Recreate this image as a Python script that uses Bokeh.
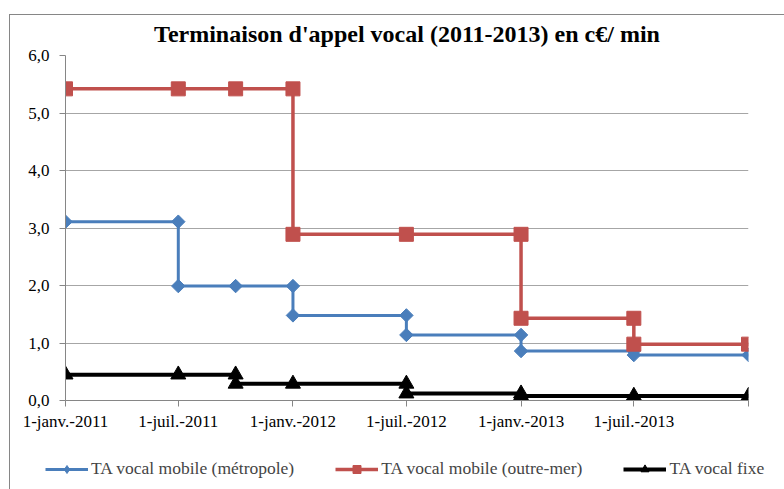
import math
import pandas as pd
from bokeh.plotting import figure
from bokeh.layouts import column
from bokeh.models import Range1d, FixedTicker, Legend, LegendItem, CustomJSTickFormatter
from bokeh.embed import file_html
from bokeh.resources import INLINE

# ---- data ----
title_text = "Terminaison d'appel vocal (2011-2013) en c€/ min"

blue_name = "TA vocal mobile (métropole)"
blue_dates = ["2011-01-01", "2011-07-01", "2011-07-01", "2011-10-01", "2012-01-01", "2012-01-01",
              "2012-07-01", "2012-07-01", "2013-01-01", "2013-01-01", "2013-07-01", "2013-07-01",
              "2014-01-01"]
blue_vals = [3.11, 3.11, 1.99, 1.99, 1.99, 1.48, 1.48, 1.14, 1.14, 0.86, 0.86, 0.79, 0.79]

red_name = "TA vocal mobile (outre-mer)"
red_dates = ["2011-01-01", "2011-07-01", "2011-10-01", "2012-01-01", "2012-01-01", "2012-07-01",
             "2013-01-01", "2013-01-01", "2013-07-01", "2013-07-01", "2014-01-01"]
red_vals = [5.42, 5.42, 5.42, 5.42, 2.89, 2.89, 2.89, 1.43, 1.43, 0.98, 0.98]

black_name = "TA vocal fixe"
black_dates = ["2011-01-01", "2011-07-01", "2011-10-01", "2011-10-01", "2012-01-01", "2012-07-01",
               "2012-07-01", "2013-01-01", "2013-01-01", "2013-07-01", "2014-01-01"]
black_vals = [0.45, 0.45, 0.45, 0.29, 0.29, 0.29, 0.12, 0.12, 0.08, 0.08, 0.08]

x_tick_dates = ["2011-01-01", "2011-07-01", "2012-01-01", "2012-07-01", "2013-01-01",
                "2013-07-01", "2014-01-01"]
x_tick_labels = ["1-janv.-2011", "1-juil.-2011", "1-janv.-2012", "1-juil.-2012",
                 "1-janv.-2013", "1-juil.-2013", ""]
y_ticks = [0, 1, 2, 3, 4, 5, 6]
y_tick_labels = ["0,0", "1,0", "2,0", "3,0", "4,0", "5,0", "6,0"]


def ms(d):
    return int(pd.Timestamp(d).value // 10**6)


FONT = "Liberation Serif"
LOOKUP = """
let best = 0;
for (let i = 1; i < tvals.length; i++) {
  if (Math.abs(tvals[i] - tick) < Math.abs(tvals[best] - tick)) best = i;
}
return tlabels[best];
"""

W = 784
H_MAIN = 450
H_LEG = 39

p = figure(width=W, height=H_MAIN, x_axis_type="datetime", output_backend="svg",
           toolbar_location=None,
           x_range=Range1d(ms(x_tick_dates[0]), ms(x_tick_dates[-1])),
           y_range=Range1d(0, 6),
           min_border_left=65, min_border_right=36, min_border_top=55, min_border_bottom=50)

p.title.text = title_text
p.title.align = "center"
p.title.text_font = FONT
p.title.text_font_size = "24px"
p.title.text_font_style = "bold"
p.title.text_color = "black"
p.title.standoff = 17

p.outline_line_color = None
p.background_fill_color = "white"
p.border_fill_color = None
p.xgrid.grid_line_color = None
p.ygrid.grid_line_color = "#a6a6a6"
p.ygrid.grid_line_width = 1

p.axis.axis_line_color = "#868686"
p.axis.major_tick_line_color = "#868686"
p.axis.major_tick_out = 6
p.axis.major_tick_in = 0
p.axis.minor_tick_line_color = None
p.axis.major_label_text_font = FONT
p.axis.major_label_text_font_size = "17px"
p.axis.major_label_text_color = "black"

xt = [ms(d) for d in x_tick_dates]
p.xaxis.ticker = FixedTicker(ticks=xt)
p.xaxis.formatter = CustomJSTickFormatter(args=dict(tvals=xt, tlabels=x_tick_labels), code=LOOKUP)
p.xaxis.major_label_standoff = 5
p.yaxis.ticker = FixedTicker(ticks=y_ticks)
p.yaxis.formatter = CustomJSTickFormatter(args=dict(tvals=y_ticks, tlabels=y_tick_labels), code=LOOKUP)
p.yaxis.major_label_standoff = 10

# legend strip: same series drawn on a figure whose ranges keep the marks out of view
lf = figure(width=W, height=H_LEG, output_backend="svg", toolbar_location=None,
            x_range=Range1d(0, 1), y_range=Range1d(100, 101),
            x_axis_location=None, y_axis_location=None,
            min_border_left=0, min_border_right=0, min_border_top=0, min_border_bottom=0)
lf.frame_align = False
lf.outline_line_color = None
lf.grid.grid_line_color = None
lf.background_fill_color = None
lf.border_fill_color = None

# (name, dates, values, colour, marker, size, angle, line width, legend marker, legend size)
series = [
    (blue_name, blue_dates, blue_vals, "#4a7ebb", "square", 9.5, math.pi / 4, 3, "diamond", 15),
    (red_name, red_dates, red_vals, "#c0504d", "square", 14, 0, 3.5, "square", 14),
    (black_name, black_dates, black_vals, "#000000", "triangle", 15, 0, 4, "triangle", 15),
]
items = []
for name, dates, vals, col, mk, sz, ang, lw, lmk, lsz in series:
    xs = [ms(d) for d in dates]
    p.line(xs, vals, line_color=col, line_width=lw)
    p.scatter(xs, vals, marker=mk, size=sz, angle=ang, fill_color=col, line_color=col)
    l1 = lf.line(xs, vals, line_color=col, line_width=lw)
    l2 = lf.scatter(xs, vals, marker=lmk, size=lsz, fill_color=col, line_color=col)
    items.append(LegendItem(label=name, renderers=[l1, l2]))

legend = Legend(items=items, orientation="horizontal", location=(45, 10),
                padding=0, margin=0, spacing=41, glyph_width=43, glyph_height=20,
                label_standoff=3, label_text_font=FONT, label_text_font_size="17.5px",
                label_height=20, border_line_color=None, background_fill_alpha=0)
lf.add_layout(legend, "center")

layout = column(p, lf, spacing=0)
# chart-area border (left and top edges; the others lie outside the picture)
layout.styles = {
    "background": ("linear-gradient(#868686, #868686) 9px 14px / 1px calc(100% - 14px) no-repeat, "
                   "linear-gradient(#868686, #868686) 9px 14px / calc(100% - 9px) 1px no-repeat, "
                   "white"),
}

open("out.html", "w").write(file_html(layout, INLINE))
